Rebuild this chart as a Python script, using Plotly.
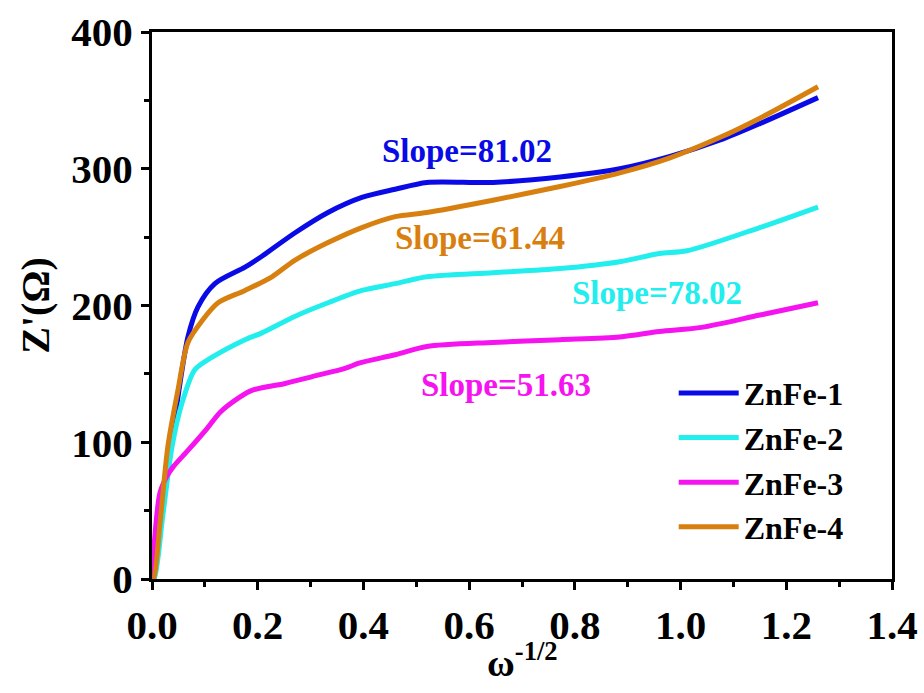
import plotly.graph_objects as go

# ---- data ----
x1 = [0.0, 0.003, 0.02, 0.0435, 0.068, 0.087, 0.119, 0.176, 0.208, 0.270, 0.333, 0.397, 0.460, 0.52, 0.645, 0.772, 0.885, 0.98, 1.075, 1.15, 1.26]
y1 = [0, 0, 50, 118, 177, 199, 216, 228, 236, 253, 268, 279, 285, 290, 290, 294, 300, 309, 321, 333, 352]

x2 = [0.0, 0.004, 0.02, 0.038, 0.057, 0.081, 0.113, 0.176, 0.208, 0.27, 0.333, 0.397, 0.46, 0.52, 0.645, 0.772, 0.885, 0.96, 1.012, 1.15, 1.26]
y2 = [0, 0, 45, 97, 129, 153, 162, 175, 180, 192, 202, 211, 216, 221, 224, 227, 232, 238, 240, 257, 272]

x3 = [0.0, 0.006, 0.015, 0.028, 0.04, 0.068, 0.104, 0.129, 0.166, 0.189, 0.252, 0.303, 0.365, 0.393, 0.46, 0.52, 0.645, 0.772, 0.885, 0.96, 1.04, 1.15, 1.26]
y3 = [0, 34, 63, 75, 82, 94, 110, 122, 133, 138, 143, 148, 154, 158, 164, 170, 173, 175, 177, 181, 184, 193, 202]

x4 = [0.0, 0.003, 0.015, 0.030, 0.049, 0.068, 0.095, 0.125, 0.176, 0.227, 0.27, 0.333, 0.397, 0.46, 0.52, 0.645, 0.772, 0.885, 0.98, 1.075, 1.15, 1.26]
y4 = [0, 0, 40, 97, 138, 173, 189, 202, 211, 221, 233, 246, 257, 265, 268, 277, 287, 297, 308, 323, 337, 360]

names = ["ZnFe-1", "ZnFe-2", "ZnFe-3", "ZnFe-4"]
colors = ["#0A0AE6", "#22EEEE", "#F514F0", "#D8800F"]

slope_texts = ["Slope=81.02", "Slope=78.02", "Slope=51.63", "Slope=61.44"]
slope_x = [0.595, 0.955, 0.67, 0.62]
slope_y = [313, 209, 142, 249]

xticks = [0.0, 0.2, 0.4, 0.6, 0.8, 1.0, 1.2, 1.4]
yticks = [0, 100, 200, 300, 400]

FONT = "Liberation Serif"

fig = go.Figure()
for xs, ys, n, c in zip([x1, x2, x3, x4], [y1, y2, y3, y4], names, colors):
    fig.add_trace(go.Scatter(x=xs, y=ys, name="<b>%s</b>" % n, mode="lines",
                             line=dict(color=c, width=5, shape="spline", smoothing=0.8)))

for t, sx, sy, c in zip(slope_texts, slope_x, slope_y, colors):
    fig.add_annotation(x=sx, y=sy, text="<b>%s</b>" % t, showarrow=False,
                       font=dict(family=FONT, size=33, color=c))

# x-axis title as annotation
fig.add_annotation(x=0.5, y=-0.148, xref="paper", yref="paper", xanchor="center", yanchor="middle",
                   text="<b>ω<sup>-1/2</sup></b>", showarrow=False,
                   font=dict(family=FONT, size=38, color="black"))

axis_common = dict(showline=True, linewidth=3, linecolor="black", mirror=True,
                   ticks="outside", tickwidth=3, ticklen=8, tickcolor="black",
                   showgrid=False, zeroline=False, automargin=False,
                   tickfont=dict(family=FONT, size=41, color="black"))

fig.update_xaxes(range=[0, 1.4], tickvals=xticks,
                 ticktext=["<b>%.1f</b>" % v for v in xticks],
                 minor=dict(dtick=0.1, ticks="outside", ticklen=5, tickwidth=3, tickcolor="black"),
                 **axis_common)
fig.update_yaxes(range=[0, 400], tickvals=yticks,
                 ticktext=["<b>%d</b>" % v for v in yticks],
                 minor=dict(dtick=50, ticks="outside", ticklen=5, tickwidth=3, tickcolor="black"),
                 title=dict(text="<b>Z'(Ω)</b>", font=dict(family=FONT, size=40, color="black"), standoff=10),
                 **axis_common)

fig.update_layout(
    width=924, height=693,
    margin=dict(l=152, r=32, t=32, b=114),
    paper_bgcolor="white", plot_bgcolor="white",
    showlegend=True,
    legend=dict(x=0.705, y=0.39, xanchor="left", yanchor="top",
                font=dict(family=FONT, size=32, color="black"),
                bgcolor="rgba(0,0,0,0)", itemwidth=60, tracegroupgap=0),
)

fig.write_html("out.html")
